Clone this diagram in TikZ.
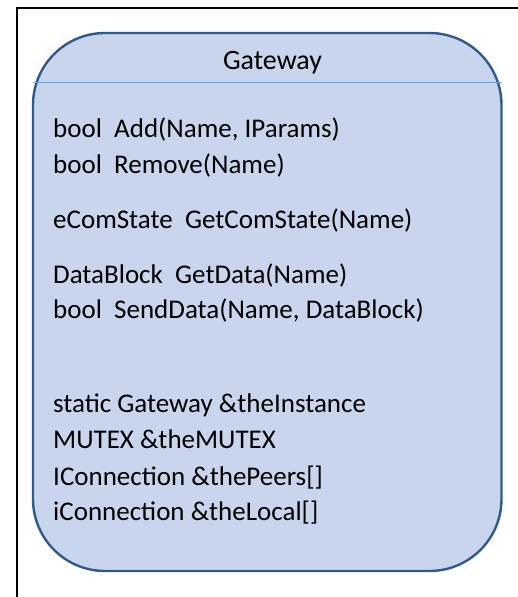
\documentclass[tikz,border=0pt]{standalone}
\usepackage{fontspec}
\setmainfont{Carlito}
\definecolor{boxfill}{HTML}{C9D5EC}
\definecolor{boxdraw}{HTML}{2F5A8C}
\definecolor{sepline}{HTML}{6FA0D8}
\begin{document}
\begin{tikzpicture}[x=1pt,y=-1pt,
  member/.style={anchor=base west,inner sep=0pt,font=\fontsize{27}{32}\selectfont,text=black},
  title/.style={anchor=base,inner sep=0pt,font=\fontsize{28}{33}\selectfont,text=black}]
\useasboundingbox (0,0) rectangle (518,597);
\fill[white] (0,0) rectangle (518,597);
% outer frame (cropped at right and bottom)
\draw[line width=2.5pt] (17,597) -- (17,8) -- (518,8);
% class box
\draw[fill=boxfill,draw=boxdraw,line width=2.4pt,rounded corners=72pt] (33,33) rectangle (501.5,571);
\draw[sepline,line width=1pt] (33,82.5) -- (502,82.5);
\node[title] (t) at (272.5,69) {Gateway};
\node[member] (m1) at (53,137) {bool\ \ Add(Name, IParams)};
\node[member] (m2) at (53,173) {bool\ \ Remove(Name)};
\node[member] (m3) at (53,228) {eComState\ \ GetComState(Name)};
\node[member] (m4) at (53,283) {DataBlock\ \ GetData(Name)};
\node[member] (m5) at (53,318) {bool\ \ SendData(Name, DataBlock)};
\node[member] (m6) at (53,412) {static Gateway \&theInstance};
\node[member] (m7) at (53,448) {MUTEX \&theMUTEX};
\node[member] (m8) at (53,485) {IConnection \&thePeers[]};
\node[member] (m9) at (53,520) {iConnection \&theLocal[]};
\end{tikzpicture}
\end{document}
